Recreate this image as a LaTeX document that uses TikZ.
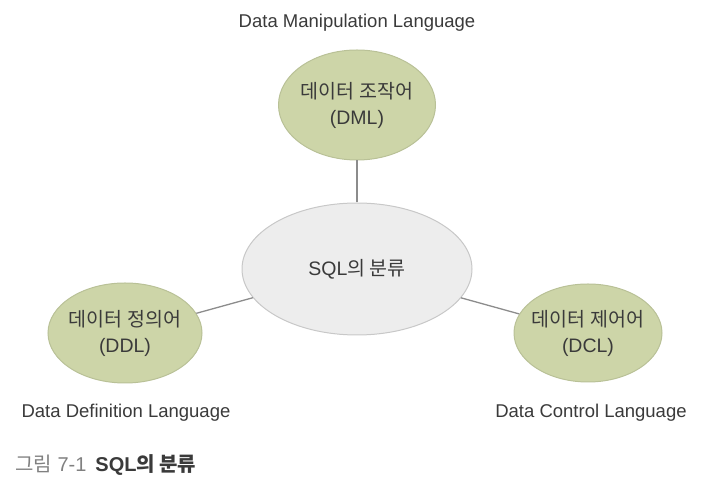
\documentclass[tikz,border=0pt]{standalone}
\usepackage{fontspec}
\setmainfont{Liberation Sans}
\newfontfamily\kofont{Noto Sans CJK KR}
\usetikzlibrary{shapes.geometric}

\definecolor{leaf}{HTML}{CDD5A8}
\definecolor{leafedge}{HTML}{B9C197}
\definecolor{hub}{HTML}{EDEDED}
\definecolor{hubedge}{HTML}{C8C8C8}
\definecolor{wire}{HTML}{8C8C8C}
\definecolor{ink}{HTML}{3A3A3A}

\newcommand{\ko}[1]{{\kofont #1}}

\begin{document}
\begin{tikzpicture}[x=1pt, y=1pt,
    kind/.style={ellipse, draw=leafedge, fill=leaf, line width=1pt, inner xsep=-14pt, inner ysep=0pt,
      align=center, text=ink, font=\fontsize{19.5}{26}\selectfont},
    hubnode/.style={ellipse, draw=hubedge, fill=hub, line width=1pt, inner sep=0pt,
      text=ink, font=\fontsize{19.5}{22}\selectfont},
    fullname/.style={text=ink, inner sep=0pt, font=\fontsize{18.5}{22}\selectfont},
    link/.style={draw=wire, line width=1.3pt}]
    \useasboundingbox (0,0) rectangle (705,484);
    \node[hubnode, minimum width=230, minimum height=132] (sql) at (357,215) {SQL\ko{의 분류}};
    \node[kind, minimum width=157, minimum height=110] (dml) at (357,379) {\ko{데이터 조작어}\\(DML)};
    \node[kind, minimum width=154, minimum height=100] (ddl) at (125,151) {\ko{데이터 정의어}\\(DDL)};
    \node[kind, minimum width=148, minimum height=98] (dcl) at (588,151) {\ko{데이터 제어어}\\(DCL)};
    \node[fullname] (dmlname) at (357,461) {Data Manipulation Language};
    \node[fullname] (ddlname) at (126,71) {Data Definition Language};
    \node[fullname] (dclname) at (591,71) {Data Control Language};
    \draw[link] (dml) -- (sql);
    \draw[link] (ddl) -- (sql);
    \draw[link] (dcl) -- (sql);
    \node[anchor=west, inner sep=0pt, font=\fontsize{20}{22}\selectfont] (caption) at (15,19)
      {\textcolor{gray}{\ko{그림} 7-1}\hspace{9pt}\textcolor{ink}{\bfseries SQL\ko{의 분류}}};
\end{tikzpicture}
\end{document}
